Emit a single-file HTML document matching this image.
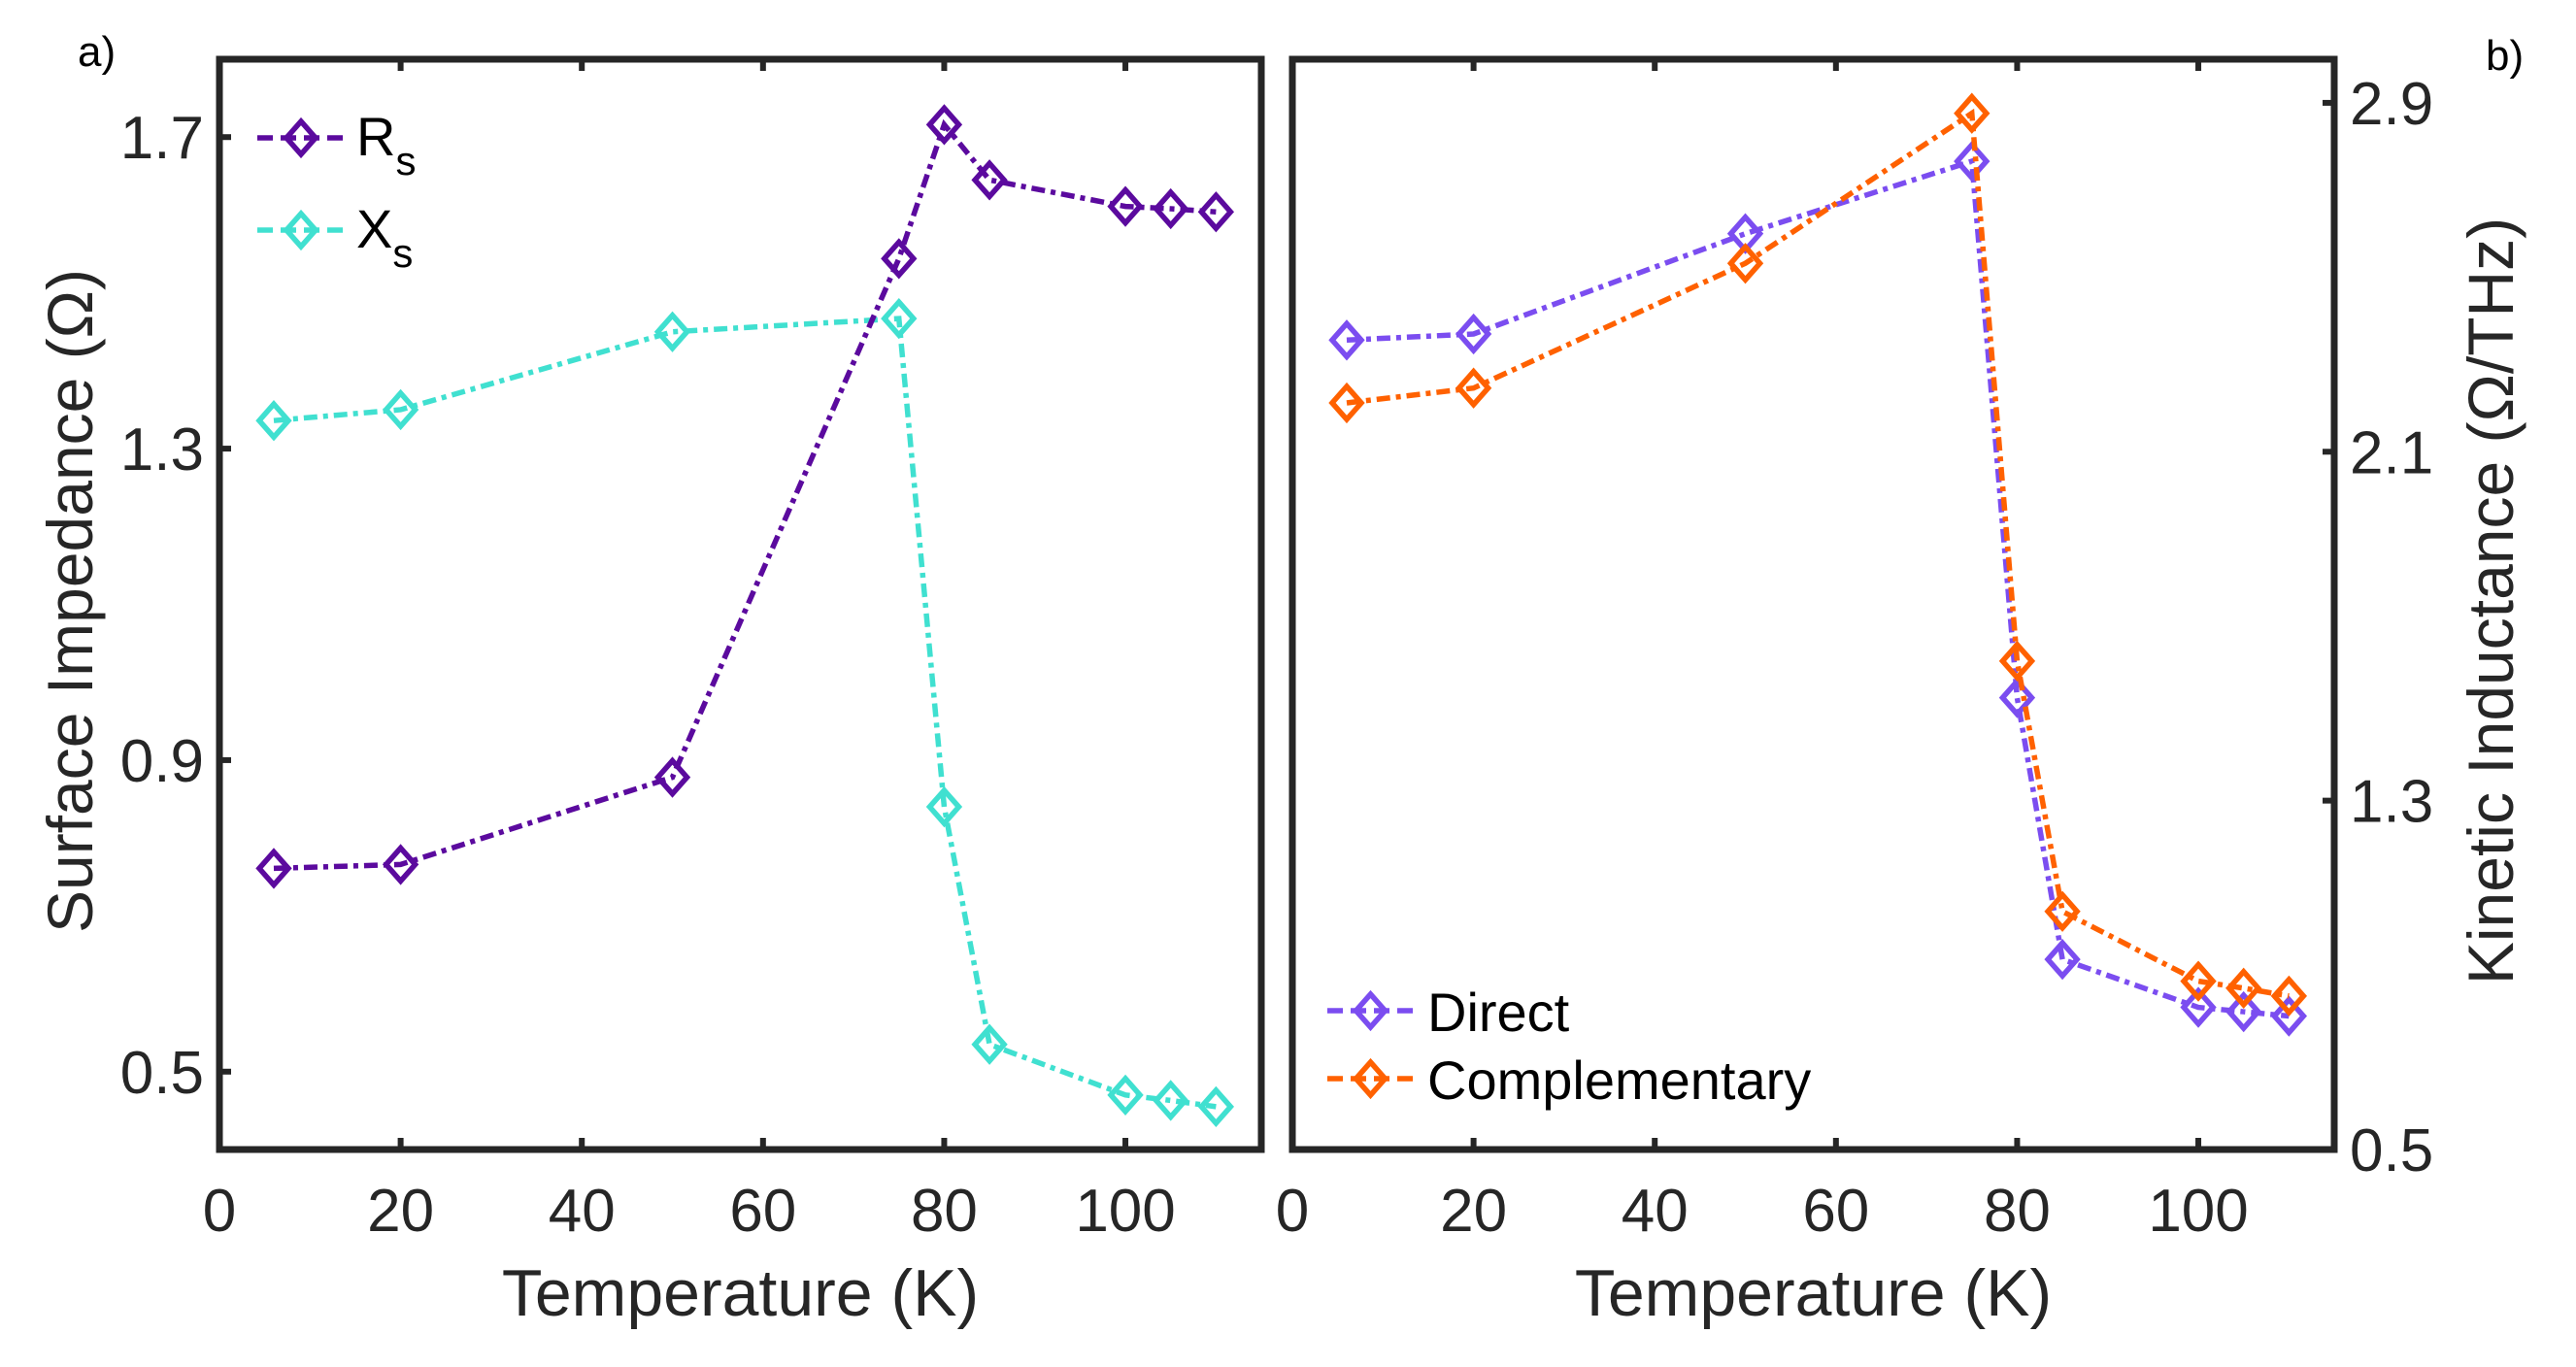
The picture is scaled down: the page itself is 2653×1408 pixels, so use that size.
<!DOCTYPE html>
<html><head><meta charset="utf-8">
<style>
html,body{margin:0;padding:0;background:#fff;}
svg{display:block;font-family:"Liberation Sans",Arial,sans-serif;}
</style></head>
<body>
<svg id="fig" width="2653" height="1408" viewBox="0 0 2653 1408" xmlns="http://www.w3.org/2000/svg">
<text x="80" y="68" font-size="44" fill="#000">a)</text>
<text x="2560" y="72" font-size="44" fill="#000">b)</text>
<g id="pa"></g>
<g id="pb"></g>
</svg>
<script>
const temps = [6,20,50,75,80,85,100,105,110];
const rsValues = [0.761,0.766,0.878,1.544,1.716,1.645,1.611,1.608,1.604];
const xsValues = [1.336,1.350,1.450,1.467,0.840,0.535,0.470,0.463,0.455];
const directValues = [2.356,2.370,2.600,2.766,1.536,0.936,0.826,0.816,0.806];
const compValues = [2.212,2.246,2.532,2.876,1.620,1.046,0.886,0.870,0.852];
const xTicks = [0,20,40,60,80,100];
const yTicksA = [0.5,0.9,1.3,1.7];
const yTicksB = [0.5,1.3,2.1,2.9];
const tickLabelsA = ["0.5","0.9","1.3","1.7"];
const tickLabelsB = ["0.5","1.3","2.1","2.9"];

const NS="http://www.w3.org/2000/svg";
function mk(parent,tag,attrs){const e=document.createElementNS(NS,tag);for(const k in attrs)e.setAttribute(k,attrs[k]);parent.appendChild(e);return e;}
const AX="#262626";

function panel(g,box,xmax,ymin,ymax,yTicks,yLabels,side){
  const sx=v=>box.l+(v/xmax)*(box.r-box.l);
  const sy=v=>box.b-(v-ymin)/(ymax-ymin)*(box.b-box.t);
  xTicks.forEach(t=>{
    const x=sx(t);
    const tk=mk(g,'path',{d:`M${x},${box.b}V${box.b-12}M${x},${box.t}V${box.t+12}`,stroke:AX,'stroke-width':6});
    
    
    const lb=mk(g,'text',{x:x,y:1268,'font-size':62,'text-anchor':'middle',fill:AX});
    lb.textContent=t;
    
    
  });
  yTicks.forEach((t,i)=>{
    const y=sy(t);
    const d=side==='left'?`M${box.l},${y}H${box.l+12}`:`M${box.r},${y}H${box.r-12}`;
    const tk=mk(g,'path',{d:d,stroke:AX,'stroke-width':6});
    
    
    const lb=mk(g,'text',{x:side==='left'?box.l-16:box.r+16,y:y+22,'font-size':62,'text-anchor':side==='left'?'end':'start',fill:AX});
    lb.textContent=yLabels[i];
    
    
  });
  const fr=mk(g,'rect',{x:box.l,y:box.t,width:box.r-box.l,height:box.b-box.t,fill:'none',stroke:AX,'stroke-width':7});
  
  
  const xt=mk(g,'text',{x:(box.l+box.r)/2,y:1355,'font-size':68,'text-anchor':'middle',fill:AX});
  xt.textContent='Temperature (K)';
  
  
  return {sx,sy};
}
function diamond(g,x,y,c){
  return mk(g,'path',{d:`M${x},${y-17}L${x+15},${y}L${x},${y+17}L${x-15},${y}Z`,fill:'none',stroke:c,'stroke-width':5.5});
}
function series(g,s,vals,c,name){
  const pts=temps.map((t,i)=>[s.sx(t),s.sy(vals[i])]);
  const ln=mk(g,'polyline',{points:pts.map(p=>p.join(',')).join(' '),fill:'none',stroke:c,'stroke-width':5.5,'stroke-dasharray':'14,6,5,6'});
  
  
  pts.forEach(p=>{
    const d=diamond(g,p[0],p[1],c);
    
    
  });
}
function legendEntry(g,x1,x2,y,c,name){
  const l=mk(g,'line',{x1:x1,x2:x2,y1:y,y2:y,stroke:c,'stroke-width':5.5,'stroke-dasharray':'16,8'});
  
  
  const d=diamond(g,(x1+x2)/2,y,c);
  
  
}

const ga=document.getElementById('pa');
const sa=panel(ga,{l:226,r:1299,t:61,b:1184},115,0.4,1.8,yTicksA,tickLabelsA,'left');
series(ga,sa,xsValues,'#40E0D0','xs');
series(ga,sa,rsValues,'#5B0A9E','rs');
legendEntry(ga,265,355,142,'#5B0A9E','rs');
legendEntry(ga,265,355,237,'#40E0D0','xs');
const yta=mk(ga,'text',{x:0,y:0,'font-size':66,'text-anchor':'middle',fill:AX,transform:'translate(95,619) rotate(-90)'});
yta.textContent='Surface Impedance (Ω)';


const r1=mk(ga,'text',{x:367,y:160,'font-size':56,fill:'#000'});
r1.innerHTML='R<tspan dy="20" font-size="42">s</tspan>';


const r2=mk(ga,'text',{x:367,y:255,'font-size':56,fill:'#000'});
r2.innerHTML='X<tspan dy="20" font-size="42">s</tspan>';



const gb=document.getElementById('pb');
const sb=panel(gb,{l:1331,r:2404,t:61,b:1184},115,0.5,3.0,yTicksB,tickLabelsB,'right');
series(gb,sb,directValues,'#7B4DF0','direct');
series(gb,sb,compValues,'#FF6100','complementary');
legendEntry(gb,1367,1456,1041,'#7B4DF0','direct');
legendEntry(gb,1367,1456,1111,'#FF6100','complementary');
const l1=mk(gb,'text',{x:1470,y:1062,'font-size':56,fill:'#000'});
l1.textContent='Direct';


const l2=mk(gb,'text',{x:1470,y:1132,'font-size':56,fill:'#000'});
l2.textContent='Complementary';


const ytb=mk(gb,'text',{x:0,y:0,'font-size':66,'text-anchor':'middle',fill:AX,transform:'translate(2588,619) rotate(-90)'});
ytb.textContent='Kinetic Inductance (Ω/THz)';


</script>
</body></html>
